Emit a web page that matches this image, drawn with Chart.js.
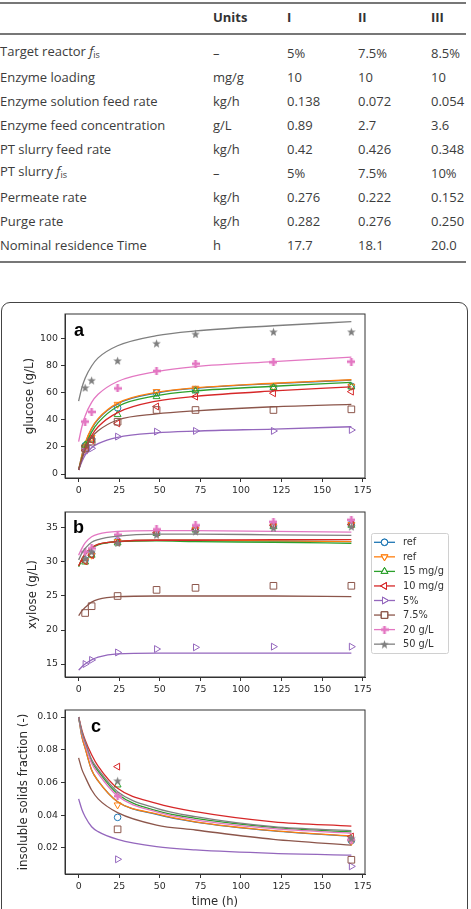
<!DOCTYPE html>
<html>
<head>
<meta charset="utf-8">
<script src="https://cdn.jsdelivr.net/npm/chart.js@4.4.1/dist/chart.umd.min.js"></script>
<style>
  body { margin: 0; width: 471px; height: 909px; overflow: hidden; background: #fff; position: relative; }
  .tbl { position: absolute; left: 0; top: 0; width: 471px; height: 270px; font-family: "Open Sans", sans-serif; font-size: 13px; color: #3c3c3c; }
  .rule { position: absolute; left: 0; width: 466px; height: 1.5px; background: #777; }
  .cell { position: absolute; white-space: nowrap; line-height: 16px; transform: translateY(-50%); }
  .cell sub { font-size: 9px; vertical-align: -2px; }
  .head { font-weight: 700; color: #333; }
  .fig { position: absolute; left: 1px; top: 302px; width: 467px; height: 640px; box-sizing: border-box; border: 1.3px solid #444; border-radius: 9px; }
  canvas { position: absolute; left: 0; }
</style>
</head>
<body>
<div class="tbl" id="tbl"></div>
<div class="fig"></div>
<canvas id="chartA" width="471" height="200" style="top:300px"></canvas>
<canvas id="chartB" width="471" height="200" style="top:500px"></canvas>
<canvas id="chartC" width="471" height="209" style="top:700px"></canvas>
<script>
// Bảng thông số
const rowLabels = ['Target reactor <i>f</i><sub>is</sub>', 'Enzyme loading', 'Enzyme solution feed rate',
  'Enzyme feed concentration', 'PT slurry feed rate', 'PT slurry <i>f</i><sub>is</sub>', 'Permeate rate',
  'Purge rate', 'Nominal residence Time'];
const rowUnits = ['–', 'mg/g', 'kg/h', 'g/L', 'kg/h', '–', 'kg/h', 'kg/h', 'h'];
const caseI = ['5%', '10', '0.138', '0.89', '0.42', '5%', '0.276', '0.282', '17.7'];
const caseII = ['7.5%', '10', '0.072', '2.7', '0.426', '7.5%', '0.222', '0.276', '18.1'];
const caseIII = ['8.5%', '10', '0.054', '3.6', '0.348', '10%', '0.152', '0.250', '20.0'];

// Dữ liệu biểu đồ
const seriesNames = ['ref', 'ref', '15 mg/g', '10 mg/g', '5%', '7.5%', '20 g/L', '50 g/L'];
const fitTimes = [0, 2, 4, 8, 12, 24, 48, 72, 120, 168];
const sampleTimes = [4, 8, 24, 48, 72, 120, 168];
const solidsTimes = [24, 168];
const xTicks = [0, 25, 50, 75, 100, 125, 150, 175];

const glucoseFit = [
  [3, 13.5, 22.5, 33.5, 40.5, 52, 60, 63.5, 67, 69.5],
  [3, 14, 23, 34, 41, 52.5, 60.5, 63.8, 67.2, 69.8],
  [3, 12, 20.5, 31, 38, 50, 58, 61.5, 65, 67.8],
  [3, 11, 19, 28.5, 35, 45.5, 54, 57.5, 61.5, 64.5],
  [3, 9, 14, 19.5, 22.5, 27.2, 30.5, 31.8, 33.3, 35],
  [3, 11, 18, 27, 32, 40, 44.5, 46.8, 49.8, 51.6],
  [24, 35, 43, 53, 59, 68.5, 75.8, 79.5, 83.2, 86.5],
  [54, 64, 71, 80, 86, 95, 102.5, 106, 109.8, 112.8]
];
const glucoseData = [
  [21, 26, 49, 60, 62.5, 64, 65],
  [20, 27, 51.6, 61, 63.5, 64.4, 65],
  [21.5, 25, 44, 57.3, 61.5, 64, 64.5],
  [17.5, 25, 37.5, 50, 57.3, 59.8, 61],
  [16.5, 19, 27.7, 31.4, 31.9, 31.9, 32.6],
  [19, 24, 38.7, 47.4, 47.4, 47.4, 47.9],
  [38.8, 46, 63.4, 76.3, 81.7, 82.7, 83.2],
  [64, 69.4, 84, 96.8, 103.7, 105.4, 105.4]
];
const glucoseTicks = [0, 20, 40, 60, 80, 100];

const xyloseFit = [
  [29.4, 30.4, 31.2, 32.1, 32.6, 33.0, 33.2, 33.2, 33.1, 33.0],
  [29.4, 30.4, 31.2, 32.1, 32.6, 33.0, 33.2, 33.2, 33.1, 33.0],
  [29.3, 30.3, 31.1, 32.0, 32.5, 33.0, 33.1, 33.0, 32.9, 32.75],
  [29.4, 30.4, 31.2, 32.1, 32.6, 33.0, 33.2, 33.2, 33.3, 33.3],
  [14.1, 14.6, 15.0, 15.6, 16.0, 16.5, 16.6, 16.6, 16.6, 16.6],
  [22.1, 22.8, 23.3, 24.1, 24.5, 24.9, 25.0, 25.0, 25.0, 24.9],
  [31.0, 32.0, 32.8, 33.7, 34.1, 34.5, 34.6, 34.6, 34.5, 34.4],
  [30.3, 31.3, 32.0, 32.9, 33.3, 33.8, 34.1, 34.1, 34.0, 33.9]
];
const xyloseData = [
  [30.3, 31.2, 33.1, 34.3, 34.9, 35.4, 35.6],
  [30.2, 31.0, 33.0, 34.4, 34.8, 35.3, 35.5],
  [30.0, 31.0, 32.8, 34.2, 34.7, 35.2, 35.4],
  [30.1, 31.0, 32.9, 34.3, 34.8, 35.4, 35.5],
  [15.0, 15.6, 16.7, 17.2, 17.45, 17.55, 17.55],
  [22.5, 23.5, 25.0, 25.9, 26.2, 26.5, 26.5],
  [31.5, 32.0, 34.0, 34.8, 35.4, 35.9, 36.2],
  [30.5, 31.5, 32.8, 34.0, 34.5, 35.0, 35.2]
];
const xyloseTicks = [15, 20, 25, 30, 35];

const solidsFit = [
  [0.100, 0.088, 0.081, 0.0676, 0.061, 0.0483, 0.0405, 0.0358, 0.0304, 0.0271],
  [0.100, 0.088, 0.081, 0.0676, 0.061, 0.0483, 0.0408, 0.036, 0.0306, 0.0273],
  [0.100, 0.0905, 0.084, 0.073, 0.067, 0.053, 0.0428, 0.0381, 0.0326, 0.0298],
  [0.100, 0.092, 0.086, 0.077, 0.070, 0.0565, 0.0473, 0.0422, 0.036, 0.0334],
  [0.050, 0.0435, 0.0391, 0.033, 0.030, 0.0253, 0.0208, 0.0188, 0.0167, 0.0157],
  [0.075, 0.068, 0.0635, 0.0554, 0.050, 0.0416, 0.034, 0.031, 0.0253, 0.0218],
  [0.100, 0.090, 0.0835, 0.0717, 0.0655, 0.0517, 0.042, 0.0372, 0.0318, 0.029],
  [0.100, 0.091, 0.085, 0.074, 0.068, 0.0544, 0.0442, 0.0391, 0.033, 0.0306]
];
const solidsData = [
  [0.0387, 0.0245],
  [0.0463, 0.024],
  [0.0585, 0.0255],
  [0.0697, 0.027],
  [0.0131, 0.0088],
  [0.0314, 0.0128],
  [0.0517, 0.025],
  [0.0611, 0.026]
];
const solidsTicks = [0.02, 0.04, 0.06, 0.08, 0.10];

// Vẽ bảng
const tbl = document.getElementById('tbl');
function addCell(html, x, y, cls) {
  const d = document.createElement('div');
  d.className = 'cell' + (cls ? ' ' + cls : '');
  d.style.left = x + 'px';
  d.style.top = y + 'px';
  d.innerHTML = html;
  tbl.appendChild(d);
}
[2, 33, 261].forEach(y => {
  const r = document.createElement('div');
  r.className = 'rule';
  r.style.top = y + 'px';
  tbl.appendChild(r);
});
const colX = [0, 213, 287, 358, 431];
['Units', 'I', 'II', 'III'].forEach((h, k) => addCell(h, colX[k + 1], 17, 'head'));
rowLabels.forEach((lab, r) => {
  const y = 53 + r * 24;
  addCell(lab, colX[0], y);
  addCell(rowUnits[r], colX[1], y);
  addCell(caseI[r], colX[2], y);
  addCell(caseII[r], colX[3], y);
  addCell(caseIII[r], colX[4], y);
});

// Kiểu điểm đánh dấu
const seriesColors = ['#1f77b4', '#ff7f0e', '#2ca02c', '#d62728', '#9467bd', '#8c564b', '#e377c2', '#7f7f7f'];

function starImage(color, size) {
  const c = document.createElement('canvas');
  c.width = c.height = size;
  const g = c.getContext('2d');
  g.fillStyle = color;
  g.beginPath();
  const R = size / 2, r = R * 0.42;
  for (let k = 0; k < 10; k++) {
    const a = -Math.PI / 2 + k * Math.PI / 5;
    const rr = k % 2 ? r : R;
    const px = R + rr * Math.cos(a), py = R + 0.5 + rr * Math.sin(a);
    k ? g.lineTo(px, py) : g.moveTo(px, py);
  }
  g.closePath();
  g.fill();
  return c;
}
function plusImage(color, size) {
  const c = document.createElement('canvas');
  c.width = c.height = size;
  const g = c.getContext('2d');
  g.fillStyle = color;
  const w = size / 3;
  g.fillRect(w, 0, w, size);
  g.fillRect(0, w, size, w);
  return c;
}

const markers = [
  { style: 'circle', r: 3.3 },
  { style: 'triangle', rot: 180, r: 4 },
  { style: 'triangle', rot: 0, r: 4 },
  { style: 'triangle', rot: 270, r: 4 },
  { style: 'triangle', rot: 90, r: 4 },
  { style: 'rect', r: 4.7 },
  { style: plusImage(seriesColors[6], 8), r: 4, filled: true },
  { style: starImage(seriesColors[7], 9), r: 4, filled: true }
];

Chart.defaults.font.family = '"DejaVu Sans", sans-serif';
Chart.defaults.color = '#2a2a2a';

// Khung viền và nhãn chữ cái
const framePlugin = {
  id: 'frame',
  afterDraw(chart, args, opts) {
    const { ctx, chartArea: a } = chart;
    ctx.save();
    ctx.strokeStyle = '#333';
    ctx.lineWidth = 1;
    ctx.strokeRect(a.left, a.top, a.right - a.left, a.bottom - a.top);
    ctx.fillStyle = '#000';
    ctx.font = 'bold 18px "Liberation Sans", Arial, sans-serif';
    ctx.textBaseline = 'alphabetic';
    ctx.fillText(opts.letter, opts.x, opts.y);
    ctx.restore();
  }
};

// Chú giải kiểu matplotlib
const legendPlugin = {
  id: 'mplLegend',
  afterDraw(chart, args, opts) {
    if (!opts.show) return;
    const ctx = chart.ctx;
    ctx.save();
    ctx.fillStyle = 'rgba(255,255,255,0.85)';
    ctx.strokeStyle = '#d0d0d0';
    ctx.lineWidth = 1;
    ctx.beginPath();
    ctx.roundRect(371.5, 33.5, 77, 120, 2);
    ctx.fill();
    ctx.stroke();
    ctx.font = '9.8px "DejaVu Sans", sans-serif';
    ctx.textBaseline = 'middle';
    seriesNames.forEach((name, i) => {
      const y = 42.3 + i * 14.55;
      ctx.strokeStyle = seriesColors[i];
      ctx.lineWidth = 1.3;
      ctx.beginPath();
      ctx.moveTo(374, y);
      ctx.lineTo(395, y);
      ctx.stroke();
      const m = markers[i];
      ctx.fillStyle = m.filled ? seriesColors[i] : '#fff';
      ctx.lineWidth = 1;
      Chart.helpers.drawPoint(ctx, { pointStyle: m.style, radius: m.r, rotation: m.rot || 0, borderWidth: 1 }, 384.5, y);
      if (!m.filled && typeof m.style === 'string') ctx.stroke();
      ctx.fillStyle = '#333';
      ctx.fillText(name, 403, y + 0.5);
    });
    ctx.restore();
  }
};

function buildChart(id, fit, obs, obsTimes, cfg) {
  const datasets = [];
  seriesNames.forEach((name, i) => {
    datasets.push({
      label: name,
      data: fitTimes.map((t, k) => ({ x: t, y: fit[i][k] })),
      borderColor: seriesColors[i],
      borderWidth: 1.3,
      pointRadius: 0,
      cubicInterpolationMode: 'monotone',
      order: 40 - 2 * i
    });
    const m = markers[i];
    datasets.push({
      label: name,
      data: obsTimes.map((t, k) => ({ x: t, y: obs[i][k] })),
      showLine: false,
      pointStyle: m.style,
      pointRotation: m.rot || 0,
      pointRadius: m.r,
      pointBorderColor: seriesColors[i],
      pointBackgroundColor: m.filled ? seriesColors[i] : 'rgba(0,0,0,0)',
      pointBorderWidth: 1,
      order: 39 - 2 * i
    });
  });

  const canvas = document.getElementById(id);
  const grid = { display: true, drawOnChartArea: false, drawTicks: true, tickLength: 4, color: '#333', lineWidth: 1 };
  const border = { display: true, color: '#333', width: 1 };

  return new Chart(canvas.getContext('2d'), {
    type: 'line',
    data: { datasets },
    options: {
      responsive: false,
      animation: false,
      events: [],
      layout: { padding: { top: cfg.areaTop, right: 106, left: 0, bottom: 0 } },
      scales: {
        x: {
          type: 'linear',
          min: -8.4,
          max: 176.4,
          grid, border,
          ticks: { font: { size: 9.4 }, padding: 3, maxRotation: 0 },
          afterBuildTicks: s => { s.ticks = xTicks.map(v => ({ value: v })); },
          afterFit: s => { s.height = canvas.height - cfg.areaBottom; },
          title: { display: !!cfg.xTitle, text: cfg.xTitle, font: { size: 11.6 }, padding: { top: 0, bottom: 0 } }
        },
        y: {
          type: 'linear',
          min: cfg.min,
          max: cfg.max,
          grid, border,
          ticks: { font: { size: 9.4 }, padding: 3, callback: cfg.fmt },
          afterBuildTicks: s => { s.ticks = cfg.ticks.map(v => ({ value: v })); },
          afterFit: s => { s.width = 65; },
          title: { display: true, text: cfg.yTitle, font: { size: 11.8 }, padding: { top: cfg.titlePad, bottom: 0 } }
        }
      },
      plugins: {
        legend: { display: false },
        tooltip: { enabled: false },
        frame: { letter: cfg.letter, x: cfg.letterX, y: cfg.letterY },
        mplLegend: { show: !!cfg.legend }
      }
    },
    plugins: [framePlugin, legendPlugin]
  });
}

buildChart('chartA', glucoseFit, glucoseData, sampleTimes, {
  min: -2.96, max: 118.5, ticks: glucoseTicks, fmt: v => String(v),
  yTitle: 'glucose (g/L)', titlePad: 23.3, areaTop: 14, areaBottom: 178,
  letter: 'a', letterX: 74, letterY: 36
});
buildChart('chartB', xyloseFit, xyloseData, sampleTimes, {
  min: 13.09, max: 37.35, ticks: xyloseTicks, fmt: v => String(v),
  yTitle: 'xylose (g/L)', titlePad: 25.9, areaTop: 12, areaBottom: 177,
  letter: 'b', letterX: 73, letterY: 33, legend: true
});
buildChart('chartC', solidsFit, solidsData, solidsTimes, {
  min: 0.00412, max: 0.10428, ticks: solidsTicks, fmt: v => v.toFixed(2),
  yTitle: 'insoluble solids fraction (-)', titlePad: 16.6, areaTop: 10, areaBottom: 174,
  letter: 'c', letterX: 91, letterY: 32, xTitle: 'time (h)'
});
</script>
</body>
</html>
